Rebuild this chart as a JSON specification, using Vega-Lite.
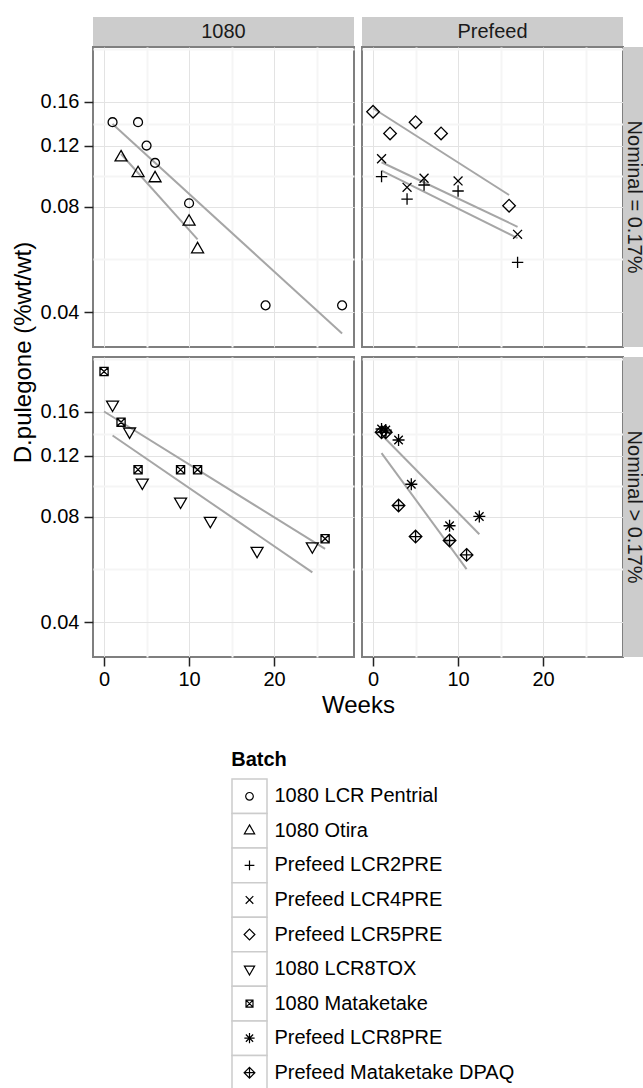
{
  "$schema": "https://vega.github.io/schema/vega-lite/v6.json",
  "padding": {"left": 10, "top": 17, "right": 0, "bottom": 0},
  "autosize": {"type": "pad"},
  "config": {
    "font": "Liberation Sans",
    "view": {"stroke": "#7F7F7F", "strokeWidth": 2},
    "axis": {"labelFont": "Liberation Sans", "titleFont": "Liberation Sans", "labelColor": "#000000", "titleColor": "#000000", "titleFontWeight": "normal"}
  },
  "datasets": {
    "pts": [
      {"Type": "1080", "Nominal": "Nominal = 0.17%", "Batch": "1080 LCR Pentrial", "Week": 1, "Dpul": 0.140},
      {"Type": "1080", "Nominal": "Nominal = 0.17%", "Batch": "1080 LCR Pentrial", "Week": 4, "Dpul": 0.140},
      {"Type": "1080", "Nominal": "Nominal = 0.17%", "Batch": "1080 LCR Pentrial", "Week": 5, "Dpul": 0.120},
      {"Type": "1080", "Nominal": "Nominal = 0.17%", "Batch": "1080 LCR Pentrial", "Week": 6, "Dpul": 0.107},
      {"Type": "1080", "Nominal": "Nominal = 0.17%", "Batch": "1080 LCR Pentrial", "Week": 10, "Dpul": 0.082},
      {"Type": "1080", "Nominal": "Nominal = 0.17%", "Batch": "1080 LCR Pentrial", "Week": 19, "Dpul": 0.0418},
      {"Type": "1080", "Nominal": "Nominal = 0.17%", "Batch": "1080 LCR Pentrial", "Week": 28, "Dpul": 0.0418},
      {"Type": "1080", "Nominal": "Nominal = 0.17%", "Batch": "1080 Otira", "Week": 2, "Dpul": 0.111},
      {"Type": "1080", "Nominal": "Nominal = 0.17%", "Batch": "1080 Otira", "Week": 4, "Dpul": 0.100},
      {"Type": "1080", "Nominal": "Nominal = 0.17%", "Batch": "1080 Otira", "Week": 6, "Dpul": 0.0967},
      {"Type": "1080", "Nominal": "Nominal = 0.17%", "Batch": "1080 Otira", "Week": 10, "Dpul": 0.0726},
      {"Type": "1080", "Nominal": "Nominal = 0.17%", "Batch": "1080 Otira", "Week": 11, "Dpul": 0.0605},
      {"Type": "Prefeed", "Nominal": "Nominal = 0.17%", "Batch": "Prefeed LCR5PRE", "Week": 0, "Dpul": 0.150},
      {"Type": "Prefeed", "Nominal": "Nominal = 0.17%", "Batch": "Prefeed LCR5PRE", "Week": 2, "Dpul": 0.130},
      {"Type": "Prefeed", "Nominal": "Nominal = 0.17%", "Batch": "Prefeed LCR5PRE", "Week": 5, "Dpul": 0.140},
      {"Type": "Prefeed", "Nominal": "Nominal = 0.17%", "Batch": "Prefeed LCR5PRE", "Week": 8, "Dpul": 0.130},
      {"Type": "Prefeed", "Nominal": "Nominal = 0.17%", "Batch": "Prefeed LCR5PRE", "Week": 16, "Dpul": 0.0807},
      {"Type": "Prefeed", "Nominal": "Nominal = 0.17%", "Batch": "Prefeed LCR4PRE", "Week": 1, "Dpul": 0.110},
      {"Type": "Prefeed", "Nominal": "Nominal = 0.17%", "Batch": "Prefeed LCR4PRE", "Week": 4, "Dpul": 0.0911},
      {"Type": "Prefeed", "Nominal": "Nominal = 0.17%", "Batch": "Prefeed LCR4PRE", "Week": 6, "Dpul": 0.0967},
      {"Type": "Prefeed", "Nominal": "Nominal = 0.17%", "Batch": "Prefeed LCR4PRE", "Week": 10, "Dpul": 0.095},
      {"Type": "Prefeed", "Nominal": "Nominal = 0.17%", "Batch": "Prefeed LCR4PRE", "Week": 17, "Dpul": 0.0668},
      {"Type": "Prefeed", "Nominal": "Nominal = 0.17%", "Batch": "Prefeed LCR2PRE", "Week": 1, "Dpul": 0.0978},
      {"Type": "Prefeed", "Nominal": "Nominal = 0.17%", "Batch": "Prefeed LCR2PRE", "Week": 4, "Dpul": 0.0843},
      {"Type": "Prefeed", "Nominal": "Nominal = 0.17%", "Batch": "Prefeed LCR2PRE", "Week": 6, "Dpul": 0.0925},
      {"Type": "Prefeed", "Nominal": "Nominal = 0.17%", "Batch": "Prefeed LCR2PRE", "Week": 10, "Dpul": 0.0889},
      {"Type": "Prefeed", "Nominal": "Nominal = 0.17%", "Batch": "Prefeed LCR2PRE", "Week": 17, "Dpul": 0.0555},
      {"Type": "1080", "Nominal": "Nominal > 0.17%", "Batch": "1080 Mataketake", "Week": 0, "Dpul": 0.209},
      {"Type": "1080", "Nominal": "Nominal > 0.17%", "Batch": "1080 Mataketake", "Week": 2, "Dpul": 0.1496},
      {"Type": "1080", "Nominal": "Nominal > 0.17%", "Batch": "1080 Mataketake", "Week": 4, "Dpul": 0.1093},
      {"Type": "1080", "Nominal": "Nominal > 0.17%", "Batch": "1080 Mataketake", "Week": 9, "Dpul": 0.1093},
      {"Type": "1080", "Nominal": "Nominal > 0.17%", "Batch": "1080 Mataketake", "Week": 11, "Dpul": 0.1093},
      {"Type": "1080", "Nominal": "Nominal > 0.17%", "Batch": "1080 Mataketake", "Week": 26, "Dpul": 0.0693},
      {"Type": "1080", "Nominal": "Nominal > 0.17%", "Batch": "1080 LCR8TOX", "Week": 1, "Dpul": 0.168},
      {"Type": "1080", "Nominal": "Nominal > 0.17%", "Batch": "1080 LCR8TOX", "Week": 3, "Dpul": 0.1407},
      {"Type": "1080", "Nominal": "Nominal > 0.17%", "Batch": "1080 LCR8TOX", "Week": 4.5, "Dpul": 0.1004},
      {"Type": "1080", "Nominal": "Nominal > 0.17%", "Batch": "1080 LCR8TOX", "Week": 9, "Dpul": 0.0886},
      {"Type": "1080", "Nominal": "Nominal > 0.17%", "Batch": "1080 LCR8TOX", "Week": 12.5, "Dpul": 0.078},
      {"Type": "1080", "Nominal": "Nominal > 0.17%", "Batch": "1080 LCR8TOX", "Week": 18, "Dpul": 0.064},
      {"Type": "1080", "Nominal": "Nominal > 0.17%", "Batch": "1080 LCR8TOX", "Week": 24.5, "Dpul": 0.0659},
      {"Type": "Prefeed", "Nominal": "Nominal > 0.17%", "Batch": "Prefeed LCR8PRE", "Week": 1, "Dpul": 0.143},
      {"Type": "Prefeed", "Nominal": "Nominal > 0.17%", "Batch": "Prefeed LCR8PRE", "Week": 1.5, "Dpul": 0.142},
      {"Type": "Prefeed", "Nominal": "Nominal > 0.17%", "Batch": "Prefeed LCR8PRE", "Week": 3, "Dpul": 0.133},
      {"Type": "Prefeed", "Nominal": "Nominal > 0.17%", "Batch": "Prefeed LCR8PRE", "Week": 4.5, "Dpul": 0.0993},
      {"Type": "Prefeed", "Nominal": "Nominal > 0.17%", "Batch": "Prefeed LCR8PRE", "Week": 9, "Dpul": 0.0755},
      {"Type": "Prefeed", "Nominal": "Nominal > 0.17%", "Batch": "Prefeed LCR8PRE", "Week": 12.5, "Dpul": 0.0803},
      {"Type": "Prefeed", "Nominal": "Nominal > 0.17%", "Batch": "Prefeed Mataketake DPAQ", "Week": 1, "Dpul": 0.140},
      {"Type": "Prefeed", "Nominal": "Nominal > 0.17%", "Batch": "Prefeed Mataketake DPAQ", "Week": 1.5, "Dpul": 0.140},
      {"Type": "Prefeed", "Nominal": "Nominal > 0.17%", "Batch": "Prefeed Mataketake DPAQ", "Week": 3, "Dpul": 0.0863},
      {"Type": "Prefeed", "Nominal": "Nominal > 0.17%", "Batch": "Prefeed Mataketake DPAQ", "Week": 5, "Dpul": 0.0703},
      {"Type": "Prefeed", "Nominal": "Nominal > 0.17%", "Batch": "Prefeed Mataketake DPAQ", "Week": 9, "Dpul": 0.0685},
      {"Type": "Prefeed", "Nominal": "Nominal > 0.17%", "Batch": "Prefeed Mataketake DPAQ", "Week": 11, "Dpul": 0.0623}
    ],
    "fits": [
      {"Type": "1080", "Nominal": "Nominal = 0.17%", "Batch": "1080 LCR Pentrial", "Week": 1, "Dpul": 0.1383},
      {"Type": "1080", "Nominal": "Nominal = 0.17%", "Batch": "1080 LCR Pentrial", "Week": 28, "Dpul": 0.0347},
      {"Type": "1080", "Nominal": "Nominal = 0.17%", "Batch": "1080 Otira", "Week": 2, "Dpul": 0.1135},
      {"Type": "1080", "Nominal": "Nominal = 0.17%", "Batch": "1080 Otira", "Week": 11, "Dpul": 0.0646},
      {"Type": "Prefeed", "Nominal": "Nominal = 0.17%", "Batch": "Prefeed LCR5PRE", "Week": 0, "Dpul": 0.1535},
      {"Type": "Prefeed", "Nominal": "Nominal = 0.17%", "Batch": "Prefeed LCR5PRE", "Week": 16, "Dpul": 0.0866},
      {"Type": "Prefeed", "Nominal": "Nominal = 0.17%", "Batch": "Prefeed LCR4PRE", "Week": 1, "Dpul": 0.1075},
      {"Type": "Prefeed", "Nominal": "Nominal = 0.17%", "Batch": "Prefeed LCR4PRE", "Week": 17, "Dpul": 0.0702},
      {"Type": "Prefeed", "Nominal": "Nominal = 0.17%", "Batch": "Prefeed LCR2PRE", "Week": 1, "Dpul": 0.1017},
      {"Type": "Prefeed", "Nominal": "Nominal = 0.17%", "Batch": "Prefeed LCR2PRE", "Week": 17, "Dpul": 0.0651},
      {"Type": "1080", "Nominal": "Nominal > 0.17%", "Batch": "1080 Mataketake", "Week": 0, "Dpul": 0.1605},
      {"Type": "1080", "Nominal": "Nominal > 0.17%", "Batch": "1080 Mataketake", "Week": 26, "Dpul": 0.0648},
      {"Type": "1080", "Nominal": "Nominal > 0.17%", "Batch": "1080 LCR8TOX", "Week": 1, "Dpul": 0.137},
      {"Type": "1080", "Nominal": "Nominal > 0.17%", "Batch": "1080 LCR8TOX", "Week": 24.5, "Dpul": 0.0555},
      {"Type": "Prefeed", "Nominal": "Nominal > 0.17%", "Batch": "Prefeed LCR8PRE", "Week": 1, "Dpul": 0.1377},
      {"Type": "Prefeed", "Nominal": "Nominal > 0.17%", "Batch": "Prefeed LCR8PRE", "Week": 12.5, "Dpul": 0.0714},
      {"Type": "Prefeed", "Nominal": "Nominal > 0.17%", "Batch": "Prefeed Mataketake DPAQ", "Week": 1, "Dpul": 0.122},
      {"Type": "Prefeed", "Nominal": "Nominal > 0.17%", "Batch": "Prefeed Mataketake DPAQ", "Week": 11, "Dpul": 0.0567}
    ],
    "batches": [
      {"Batch": "1080 LCR Pentrial"},
      {"Batch": "1080 Otira"},
      {"Batch": "Prefeed LCR2PRE"},
      {"Batch": "Prefeed LCR4PRE"},
      {"Batch": "Prefeed LCR5PRE"},
      {"Batch": "1080 LCR8TOX"},
      {"Batch": "1080 Mataketake"},
      {"Batch": "Prefeed LCR8PRE"},
      {"Batch": "Prefeed Mataketake DPAQ"}
    ],
    "blank": [{"s": ""}]
  },
  "vconcat": [
    {
      "columns": 4,
      "spacing": 0,
      "bounds": "flush",
      "concat": [
        {
          "width": 261, "height": 30,
          "view": {"fill": "#CCCCCC"},
          "data": {"values": [{"strip": "1080"}]},
          "mark": {"type": "text", "fontSize": 20, "color": "#1A1A1A", "baseline": "middle", "align": "center"},
          "encoding": {"text": {"field": "strip"}}
        },
        {"width": 8, "height": 30, "view": {"stroke": null}, "data": {"name": "blank"}, "mark": "text", "encoding": {"text": {"field": "s"}}},
        {
          "width": 261, "height": 30,
          "view": {"fill": "#CCCCCC"},
          "data": {"values": [{"strip": "Prefeed"}]},
          "mark": {"type": "text", "fontSize": 20, "color": "#1A1A1A", "baseline": "middle", "align": "center"},
          "encoding": {"text": {"field": "strip"}}
        },
        {"width": 21, "height": 30, "view": {"stroke": null}, "data": {"name": "blank"}, "mark": "text", "encoding": {"text": {"field": "s"}}},
        {
          "width": 261, "height": 300,
          "encoding": {
            "x": {"field": "Week", "type": "quantitative", "scale": {"domain": [-1.3, 29.4], "nice": false, "zero": false},
              "axis": {"values": [0, 5, 10, 15, 20, 25], "labels": false, "ticks": false, "domain": false, "title": null, "grid": true,
                "gridColor": {"condition": {"test": "datum.value % 10 !== 0", "value": "#F5F5F5"}, "value": "#E3E3E3"},
                "gridWidth": {"condition": {"test": "datum.value % 10 !== 0", "value": 2}, "value": 1}}},
            "y": {"field": "Dpul", "type": "quantitative", "scale": {"type": "log", "domain": [0.03175, 0.23], "nice": false},
              "axis": {"values": [0.04, 0.0566, 0.08, 0.098, 0.12, 0.1386, 0.16, 0.2263], "format": ".2f",
                "labelExpr": "abs(datum.value*100 - round(datum.value*100)) < 1e-6 ? datum.label : ''",
                "tickOpacity": {"condition": {"test": "abs(datum.value*100 - round(datum.value*100)) > 1e-6", "value": 0}, "value": 1},
                "gridColor": {"condition": {"test": "abs(datum.value*100 - round(datum.value*100)) > 1e-6", "value": "#F5F5F5"}, "value": "#E3E3E3"},
                "gridWidth": {"condition": {"test": "abs(datum.value*100 - round(datum.value*100)) > 1e-6", "value": 2}, "value": 1},
                "grid": true, "tickSize": 9, "tickWidth": 1.5, "tickColor": "#222222", "labelFontSize": 20, "labelPadding": 5,
                "labelFlush": false, "labelOverlap": false, "domain": false,
                "title": "D.pulegone (%wt/wt)", "titleFontSize": 24, "titlePadding": 5, "titleY": 305}}
          },
          "layer": [
            {"data": {"name": "fits"}, "transform": [{"filter": "datum.Type === '1080' && datum.Nominal === 'Nominal = 0.17%'"}],
              "mark": {"type": "line", "color": "#A6A6A6", "strokeWidth": 2}, "encoding": {"detail": {"field": "Batch"}}},
            {"data": {"name": "pts"}, "transform": [{"filter": "datum.Type === '1080' && datum.Nominal === 'Nominal = 0.17%'"}],
              "mark": {"type": "point", "filled": false, "color": "#000000", "size": 144, "strokeWidth": 1.3, "opacity": 1},
              "encoding": {"shape": {"field": "Batch", "legend": null, "scale": {
                "domain": ["1080 LCR Pentrial", "1080 Otira", "Prefeed LCR2PRE", "Prefeed LCR4PRE", "Prefeed LCR5PRE", "1080 LCR8TOX", "1080 Mataketake", "Prefeed LCR8PRE", "Prefeed Mataketake DPAQ"],
                "range": ["M-0.742,0A0.742,0.742 0 1,0 0.742,0A0.742,0.742 0 1,0 -0.742,0Z", "M0,-1.155L1,0.577L-1,0.577Z", "M-0.95,0H0.95M0,-0.95V0.95", "M-0.742,-0.742L0.742,0.742M-0.742,0.742L0.742,-0.742", "M0,-1.05L1.05,0L0,1.05L-1.05,0Z", "M0,1.155L1,-0.577L-1,-0.577Z", "M-0.68,-0.68H0.68V0.68H-0.68ZM-0.68,-0.68L0.68,0.68M-0.68,0.68L0.68,-0.68", "M-1,0H1M0,-1V1M-0.707,-0.707L0.707,0.707M-0.707,0.707L0.707,-0.707", "M0,-1.05L1.05,0L0,1.05L-1.05,0ZM0,-1.05V1.05M-1.05,0H1.05"]}}}}
          ]
        },
        {"width": 8, "height": 300, "view": {"stroke": null}, "data": {"name": "blank"}, "mark": "text", "encoding": {"text": {"field": "s"}}},
        {
          "width": 261, "height": 300,
          "encoding": {
            "x": {"field": "Week", "type": "quantitative", "scale": {"domain": [-1.3, 29.4], "nice": false, "zero": false},
              "axis": {"values": [0, 5, 10, 15, 20, 25], "labels": false, "ticks": false, "domain": false, "title": null, "grid": true,
                "gridColor": {"condition": {"test": "datum.value % 10 !== 0", "value": "#F5F5F5"}, "value": "#E3E3E3"},
                "gridWidth": {"condition": {"test": "datum.value % 10 !== 0", "value": 2}, "value": 1}}},
            "y": {"field": "Dpul", "type": "quantitative", "scale": {"type": "log", "domain": [0.03175, 0.23], "nice": false},
              "axis": {"values": [0.04, 0.0566, 0.08, 0.098, 0.12, 0.1386, 0.16, 0.2263], "labels": false, "ticks": false, "domain": false, "title": null, "grid": true,
                "gridColor": {"condition": {"test": "abs(datum.value*100 - round(datum.value*100)) > 1e-6", "value": "#F5F5F5"}, "value": "#E3E3E3"},
                "gridWidth": {"condition": {"test": "abs(datum.value*100 - round(datum.value*100)) > 1e-6", "value": 2}, "value": 1}}}
          },
          "layer": [
            {"data": {"name": "fits"}, "transform": [{"filter": "datum.Type === 'Prefeed' && datum.Nominal === 'Nominal = 0.17%'"}],
              "mark": {"type": "line", "color": "#A6A6A6", "strokeWidth": 2}, "encoding": {"detail": {"field": "Batch"}}},
            {"data": {"name": "pts"}, "transform": [{"filter": "datum.Type === 'Prefeed' && datum.Nominal === 'Nominal = 0.17%'"}],
              "mark": {"type": "point", "filled": false, "color": "#000000", "size": 144, "strokeWidth": 1.3, "opacity": 1},
              "encoding": {"shape": {"field": "Batch", "legend": null, "scale": {
                "domain": ["1080 LCR Pentrial", "1080 Otira", "Prefeed LCR2PRE", "Prefeed LCR4PRE", "Prefeed LCR5PRE", "1080 LCR8TOX", "1080 Mataketake", "Prefeed LCR8PRE", "Prefeed Mataketake DPAQ"],
                "range": ["M-0.742,0A0.742,0.742 0 1,0 0.742,0A0.742,0.742 0 1,0 -0.742,0Z", "M0,-1.155L1,0.577L-1,0.577Z", "M-0.95,0H0.95M0,-0.95V0.95", "M-0.742,-0.742L0.742,0.742M-0.742,0.742L0.742,-0.742", "M0,-1.05L1.05,0L0,1.05L-1.05,0Z", "M0,1.155L1,-0.577L-1,-0.577Z", "M-0.68,-0.68H0.68V0.68H-0.68ZM-0.68,-0.68L0.68,0.68M-0.68,0.68L0.68,-0.68", "M-1,0H1M0,-1V1M-0.707,-0.707L0.707,0.707M-0.707,0.707L0.707,-0.707", "M0,-1.05L1.05,0L0,1.05L-1.05,0ZM0,-1.05V1.05M-1.05,0H1.05"]}}}}
          ]
        },
        {
          "width": 21, "height": 300,
          "view": {"fill": "#CCCCCC"},
          "data": {"values": [{"strip": "Nominal = 0.17%"}]},
          "mark": {"type": "text", "fontSize": 20, "color": "#1A1A1A", "baseline": "middle", "align": "center", "angle": 90},
          "encoding": {"text": {"field": "strip"}}
        },
        {"width": 261, "height": 10, "view": {"stroke": null}, "data": {"name": "blank"}, "mark": "text", "encoding": {"text": {"field": "s"}}},
        {"width": 8, "height": 10, "view": {"stroke": null}, "data": {"name": "blank"}, "mark": "text", "encoding": {"text": {"field": "s"}}},
        {"width": 261, "height": 10, "view": {"stroke": null}, "data": {"name": "blank"}, "mark": "text", "encoding": {"text": {"field": "s"}}},
        {"width": 21, "height": 10, "view": {"stroke": null}, "data": {"name": "blank"}, "mark": "text", "encoding": {"text": {"field": "s"}}},
        {
          "width": 261, "height": 300,
          "encoding": {
            "x": {"field": "Week", "type": "quantitative", "scale": {"domain": [-1.3, 29.4], "nice": false, "zero": false},
              "axis": {"values": [0, 5, 10, 15, 20, 25], "format": "d", "labelExpr": "datum.value % 10 === 0 ? datum.label : ''",
                "tickOpacity": {"condition": {"test": "datum.value % 10 !== 0", "value": 0}, "value": 1},
                "gridColor": {"condition": {"test": "datum.value % 10 !== 0", "value": "#F5F5F5"}, "value": "#E3E3E3"},
                "gridWidth": {"condition": {"test": "datum.value % 10 !== 0", "value": 2}, "value": 1},
                "grid": true, "tickSize": 9, "tickWidth": 1.5, "tickColor": "#222222", "labelFontSize": 20, "labelPadding": 3,
                "labelFlush": false, "labelOverlap": false, "domain": false,
                "title": "Weeks", "titleFontSize": 24, "titlePadding": 4, "titleX": 265}},
            "y": {"field": "Dpul", "type": "quantitative", "scale": {"type": "log", "domain": [0.03175, 0.23], "nice": false},
              "axis": {"values": [0.04, 0.0566, 0.08, 0.098, 0.12, 0.1386, 0.16, 0.2263], "format": ".2f",
                "labelExpr": "abs(datum.value*100 - round(datum.value*100)) < 1e-6 ? datum.label : ''",
                "tickOpacity": {"condition": {"test": "abs(datum.value*100 - round(datum.value*100)) > 1e-6", "value": 0}, "value": 1},
                "gridColor": {"condition": {"test": "abs(datum.value*100 - round(datum.value*100)) > 1e-6", "value": "#F5F5F5"}, "value": "#E3E3E3"},
                "gridWidth": {"condition": {"test": "abs(datum.value*100 - round(datum.value*100)) > 1e-6", "value": 2}, "value": 1},
                "grid": true, "tickSize": 9, "tickWidth": 1.5, "tickColor": "#222222", "labelFontSize": 20, "labelPadding": 5,
                "labelFlush": false, "labelOverlap": false, "domain": false, "title": null}}
          },
          "layer": [
            {"data": {"name": "fits"}, "transform": [{"filter": "datum.Type === '1080' && datum.Nominal === 'Nominal > 0.17%'"}],
              "mark": {"type": "line", "color": "#A6A6A6", "strokeWidth": 2}, "encoding": {"detail": {"field": "Batch"}}},
            {"data": {"name": "pts"}, "transform": [{"filter": "datum.Type === '1080' && datum.Nominal === 'Nominal > 0.17%'"}],
              "mark": {"type": "point", "filled": false, "color": "#000000", "size": 144, "strokeWidth": 1.3, "opacity": 1},
              "encoding": {"shape": {"field": "Batch", "legend": null, "scale": {
                "domain": ["1080 LCR Pentrial", "1080 Otira", "Prefeed LCR2PRE", "Prefeed LCR4PRE", "Prefeed LCR5PRE", "1080 LCR8TOX", "1080 Mataketake", "Prefeed LCR8PRE", "Prefeed Mataketake DPAQ"],
                "range": ["M-0.742,0A0.742,0.742 0 1,0 0.742,0A0.742,0.742 0 1,0 -0.742,0Z", "M0,-1.155L1,0.577L-1,0.577Z", "M-0.95,0H0.95M0,-0.95V0.95", "M-0.742,-0.742L0.742,0.742M-0.742,0.742L0.742,-0.742", "M0,-1.05L1.05,0L0,1.05L-1.05,0Z", "M0,1.155L1,-0.577L-1,-0.577Z", "M-0.68,-0.68H0.68V0.68H-0.68ZM-0.68,-0.68L0.68,0.68M-0.68,0.68L0.68,-0.68", "M-1,0H1M0,-1V1M-0.707,-0.707L0.707,0.707M-0.707,0.707L0.707,-0.707", "M0,-1.05L1.05,0L0,1.05L-1.05,0ZM0,-1.05V1.05M-1.05,0H1.05"]}}}}
          ]
        },
        {"width": 8, "height": 300, "view": {"stroke": null}, "data": {"name": "blank"}, "mark": "text", "encoding": {"text": {"field": "s"}}},
        {
          "width": 261, "height": 300,
          "encoding": {
            "x": {"field": "Week", "type": "quantitative", "scale": {"domain": [-1.3, 29.4], "nice": false, "zero": false},
              "axis": {"values": [0, 5, 10, 15, 20, 25], "format": "d", "labelExpr": "datum.value % 10 === 0 ? datum.label : ''",
                "tickOpacity": {"condition": {"test": "datum.value % 10 !== 0", "value": 0}, "value": 1},
                "gridColor": {"condition": {"test": "datum.value % 10 !== 0", "value": "#F5F5F5"}, "value": "#E3E3E3"},
                "gridWidth": {"condition": {"test": "datum.value % 10 !== 0", "value": 2}, "value": 1},
                "grid": true, "tickSize": 9, "tickWidth": 1.5, "tickColor": "#222222", "labelFontSize": 20, "labelPadding": 3,
                "labelFlush": false, "labelOverlap": false, "domain": false, "title": null}},
            "y": {"field": "Dpul", "type": "quantitative", "scale": {"type": "log", "domain": [0.03175, 0.23], "nice": false},
              "axis": {"values": [0.04, 0.0566, 0.08, 0.098, 0.12, 0.1386, 0.16, 0.2263], "labels": false, "ticks": false, "domain": false, "title": null, "grid": true,
                "gridColor": {"condition": {"test": "abs(datum.value*100 - round(datum.value*100)) > 1e-6", "value": "#F5F5F5"}, "value": "#E3E3E3"},
                "gridWidth": {"condition": {"test": "abs(datum.value*100 - round(datum.value*100)) > 1e-6", "value": 2}, "value": 1}}}
          },
          "layer": [
            {"data": {"name": "fits"}, "transform": [{"filter": "datum.Type === 'Prefeed' && datum.Nominal === 'Nominal > 0.17%'"}],
              "mark": {"type": "line", "color": "#A6A6A6", "strokeWidth": 2}, "encoding": {"detail": {"field": "Batch"}}},
            {"data": {"name": "pts"}, "transform": [{"filter": "datum.Type === 'Prefeed' && datum.Nominal === 'Nominal > 0.17%'"}],
              "mark": {"type": "point", "filled": false, "color": "#000000", "size": 144, "strokeWidth": 1.3, "opacity": 1},
              "encoding": {"shape": {"field": "Batch", "legend": null, "scale": {
                "domain": ["1080 LCR Pentrial", "1080 Otira", "Prefeed LCR2PRE", "Prefeed LCR4PRE", "Prefeed LCR5PRE", "1080 LCR8TOX", "1080 Mataketake", "Prefeed LCR8PRE", "Prefeed Mataketake DPAQ"],
                "range": ["M-0.742,0A0.742,0.742 0 1,0 0.742,0A0.742,0.742 0 1,0 -0.742,0Z", "M0,-1.155L1,0.577L-1,0.577Z", "M-0.95,0H0.95M0,-0.95V0.95", "M-0.742,-0.742L0.742,0.742M-0.742,0.742L0.742,-0.742", "M0,-1.05L1.05,0L0,1.05L-1.05,0Z", "M0,1.155L1,-0.577L-1,-0.577Z", "M-0.68,-0.68H0.68V0.68H-0.68ZM-0.68,-0.68L0.68,0.68M-0.68,0.68L0.68,-0.68", "M-1,0H1M0,-1V1M-0.707,-0.707L0.707,0.707M-0.707,0.707L0.707,-0.707", "M0,-1.05L1.05,0L0,1.05L-1.05,0ZM0,-1.05V1.05M-1.05,0H1.05"]}}}}
          ]
        },
        {
          "width": 21, "height": 300,
          "view": {"fill": "#CCCCCC"},
          "data": {"values": [{"strip": "Nominal > 0.17%"}]},
          "mark": {"type": "text", "fontSize": 20, "color": "#1A1A1A", "baseline": "middle", "align": "center", "angle": 90},
          "encoding": {"text": {"field": "strip"}}
        }
      ]
    },
    {
      "hconcat": [
        {"width": 138, "height": 1, "view": {"stroke": null}, "data": {"name": "blank"}, "mark": "text", "encoding": {"text": {"field": "s"}}},
        {
          "width": 35, "height": 311,
          "view": {"stroke": null},
          "title": {"text": "Batch", "anchor": "start", "fontSize": 20, "fontWeight": "bold", "color": "#000000", "offset": 8},
          "data": {"name": "batches"},
          "encoding": {
            "y": {"field": "Batch", "type": "nominal",
              "sort": ["1080 LCR Pentrial", "1080 Otira", "Prefeed LCR2PRE", "Prefeed LCR4PRE", "Prefeed LCR5PRE", "1080 LCR8TOX", "1080 Mataketake", "Prefeed LCR8PRE", "Prefeed Mataketake DPAQ"],
              "scale": {"paddingInner": 0, "paddingOuter": 0},
              "axis": {"orient": "right", "title": null, "domain": false, "ticks": false, "grid": false, "labelFontSize": 20, "labelPadding": 7, "labelLimit": 0, "labelColor": "#000000"}}
          },
          "layer": [
            {"mark": {"type": "rect", "fill": "#FFFFFF", "stroke": "#CCCCCC", "strokeWidth": 1.5}},
            {"mark": {"type": "point", "filled": false, "color": "#000000", "size": 105, "strokeWidth": 1.2, "opacity": 1},
              "encoding": {"shape": {"field": "Batch", "legend": null, "scale": {
                "domain": ["1080 LCR Pentrial", "1080 Otira", "Prefeed LCR2PRE", "Prefeed LCR4PRE", "Prefeed LCR5PRE", "1080 LCR8TOX", "1080 Mataketake", "Prefeed LCR8PRE", "Prefeed Mataketake DPAQ"],
                "range": ["M-0.742,0A0.742,0.742 0 1,0 0.742,0A0.742,0.742 0 1,0 -0.742,0Z", "M0,-1.155L1,0.577L-1,0.577Z", "M-0.95,0H0.95M0,-0.95V0.95", "M-0.742,-0.742L0.742,0.742M-0.742,0.742L0.742,-0.742", "M0,-1.05L1.05,0L0,1.05L-1.05,0Z", "M0,1.155L1,-0.577L-1,-0.577Z", "M-0.68,-0.68H0.68V0.68H-0.68ZM-0.68,-0.68L0.68,0.68M-0.68,0.68L0.68,-0.68", "M-1,0H1M0,-1V1M-0.707,-0.707L0.707,0.707M-0.707,0.707L0.707,-0.707", "M0,-1.05L1.05,0L0,1.05L-1.05,0ZM0,-1.05V1.05M-1.05,0H1.05"]}}}}
          ]
        }
      ],
      "spacing": 0
    }
  ],
  "spacing": 32
}
